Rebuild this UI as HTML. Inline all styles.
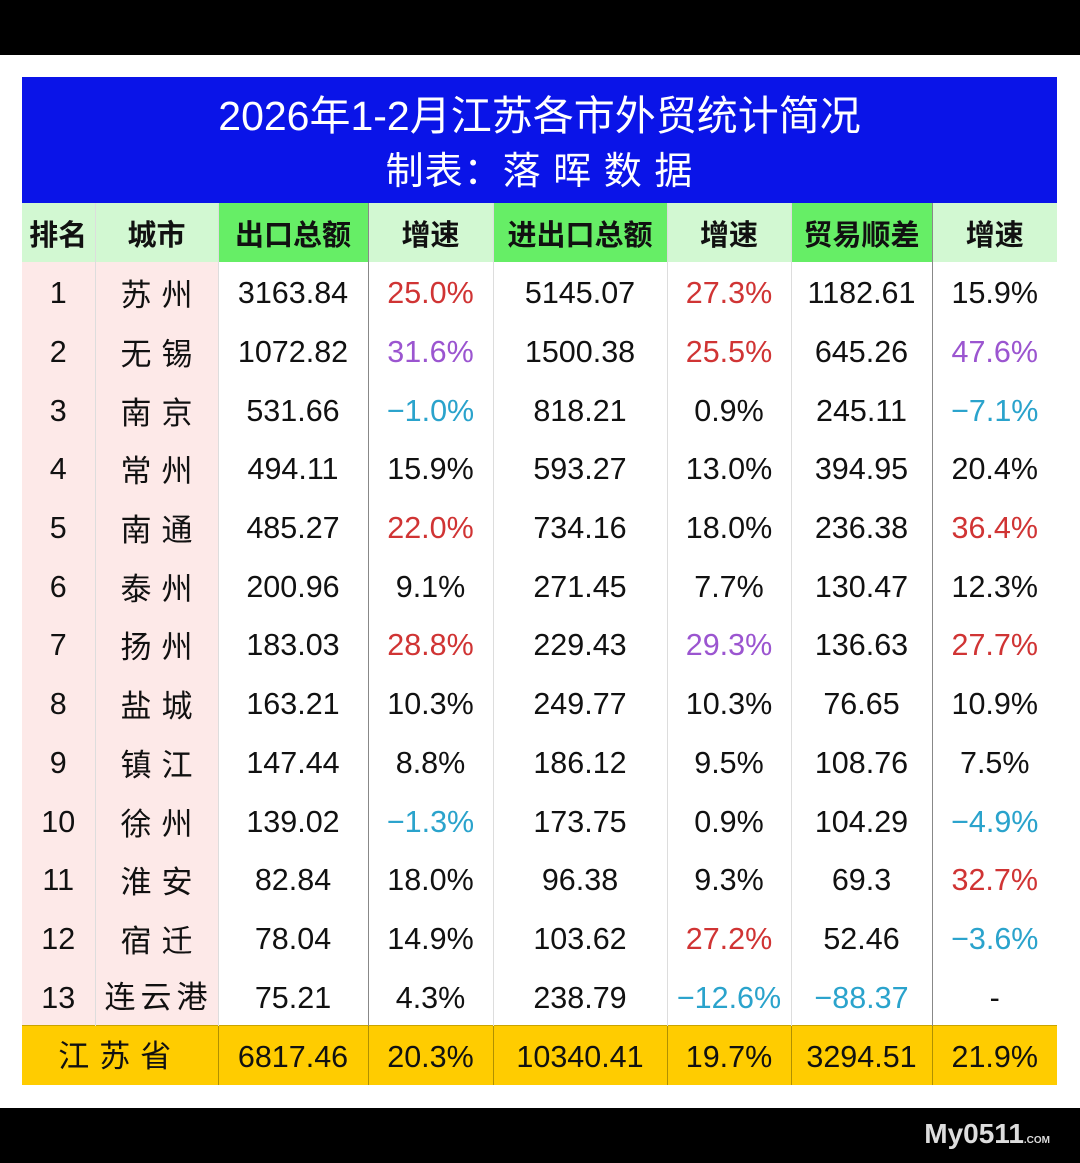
<!DOCTYPE html>
<html><head><meta charset="utf-8"><style>
body{margin:0;width:1080px;height:1163px;background:#fff;position:relative;overflow:hidden;font-family:"Liberation Sans","Noto Sans CJK SC",sans-serif;}
.top{position:absolute;left:0;top:0;width:1080px;height:55px;background:#000}
.bot{position:absolute;left:0;top:1108px;width:1080px;height:55px;background:#000}
.title{position:absolute;left:22px;top:77px;width:1035px;height:126px;background:#0a14e8;color:#fff;text-align:center}
table{position:absolute;left:22px;top:203px;border-collapse:collapse;table-layout:fixed;width:1035px}
td{padding:0;text-align:center;font-size:30.5px;line-height:36px;color:#111;height:58.7px;border-left:1px solid #ddd;white-space:nowrap;overflow:hidden}
td span{position:relative;top:2px}
td:first-child{border-left:none}
tr.h td{height:59px;background:#d2f8d2;font-weight:bold;font-size:29px;font-family:"Noto Sans CJK SC",sans-serif;color:#111}
tr.h td span{top:0}
tr.h td.g{background:#66ee66}
td.p{background:#fde9e8}
td.c{font-size:31px;letter-spacing:10px;padding-left:10px}
td.c span{top:5px}
.dl{border-left:1px solid #888}
tr.tot td{background:#ffcc00;height:59px;border-left:1px solid #b09000;border-top:1px solid #c9a400}
.r{color:#d03434}.v{color:#9b55d0}.b{color:#2aa3cc}
.wm{position:absolute;right:30px;top:1118px;color:#ddd;font-weight:bold;font-size:28px;font-family:"Liberation Sans",sans-serif}
.wm small{font-size:10px}
</style></head><body>
<div class="top"></div>
<div class="title">
<div style="position:absolute;left:0;width:100%;top:14px;font-size:41px;line-height:50px">2026年1-2月江苏各市外贸统计简况</div>
<div style="position:absolute;left:0;width:100%;top:70px;font-size:38px;line-height:50px;letter-spacing:1px">制表：落 晖 数 据</div>
</div>
<table>
<colgroup><col style="width:73px"><col style="width:123px"><col style="width:150px"><col style="width:125px"><col style="width:174px"><col style="width:124px"><col style="width:141px"><col style="width:125px"></colgroup>
<tr class="h"><td>排名</td><td>城市</td><td class="g">出口总额</td><td class="dl">增速</td><td class="g">进出口总额</td><td>增速</td><td class="g">贸易顺差</td><td class="dl">增速</td></tr>
<tr><td class="p"><span>1</span></td><td class="p c"><span>苏州</span></td><td><span>3163.84</span></td><td class="dl r"><span>25.0%</span></td><td><span>5145.07</span></td><td class="r"><span>27.3%</span></td><td><span>1182.61</span></td><td class="dl"><span>15.9%</span></td></tr>
<tr><td class="p"><span>2</span></td><td class="p c"><span>无锡</span></td><td><span>1072.82</span></td><td class="dl v"><span>31.6%</span></td><td><span>1500.38</span></td><td class="r"><span>25.5%</span></td><td><span>645.26</span></td><td class="dl v"><span>47.6%</span></td></tr>
<tr><td class="p"><span>3</span></td><td class="p c"><span>南京</span></td><td><span>531.66</span></td><td class="dl b"><span>−1.0%</span></td><td><span>818.21</span></td><td><span>0.9%</span></td><td><span>245.11</span></td><td class="dl b"><span>−7.1%</span></td></tr>
<tr><td class="p"><span>4</span></td><td class="p c"><span>常州</span></td><td><span>494.11</span></td><td class="dl"><span>15.9%</span></td><td><span>593.27</span></td><td><span>13.0%</span></td><td><span>394.95</span></td><td class="dl"><span>20.4%</span></td></tr>
<tr><td class="p"><span>5</span></td><td class="p c"><span>南通</span></td><td><span>485.27</span></td><td class="dl r"><span>22.0%</span></td><td><span>734.16</span></td><td><span>18.0%</span></td><td><span>236.38</span></td><td class="dl r"><span>36.4%</span></td></tr>
<tr><td class="p"><span>6</span></td><td class="p c"><span>泰州</span></td><td><span>200.96</span></td><td class="dl"><span>9.1%</span></td><td><span>271.45</span></td><td><span>7.7%</span></td><td><span>130.47</span></td><td class="dl"><span>12.3%</span></td></tr>
<tr><td class="p"><span>7</span></td><td class="p c"><span>扬州</span></td><td><span>183.03</span></td><td class="dl r"><span>28.8%</span></td><td><span>229.43</span></td><td class="v"><span>29.3%</span></td><td><span>136.63</span></td><td class="dl r"><span>27.7%</span></td></tr>
<tr><td class="p"><span>8</span></td><td class="p c"><span>盐城</span></td><td><span>163.21</span></td><td class="dl"><span>10.3%</span></td><td><span>249.77</span></td><td><span>10.3%</span></td><td><span>76.65</span></td><td class="dl"><span>10.9%</span></td></tr>
<tr><td class="p"><span>9</span></td><td class="p c"><span>镇江</span></td><td><span>147.44</span></td><td class="dl"><span>8.8%</span></td><td><span>186.12</span></td><td><span>9.5%</span></td><td><span>108.76</span></td><td class="dl"><span>7.5%</span></td></tr>
<tr><td class="p"><span>10</span></td><td class="p c"><span>徐州</span></td><td><span>139.02</span></td><td class="dl b"><span>−1.3%</span></td><td><span>173.75</span></td><td><span>0.9%</span></td><td><span>104.29</span></td><td class="dl b"><span>−4.9%</span></td></tr>
<tr><td class="p"><span>11</span></td><td class="p c"><span>淮安</span></td><td><span>82.84</span></td><td class="dl"><span>18.0%</span></td><td><span>96.38</span></td><td><span>9.3%</span></td><td><span>69.3</span></td><td class="dl r"><span>32.7%</span></td></tr>
<tr><td class="p"><span>12</span></td><td class="p c"><span>宿迁</span></td><td><span>78.04</span></td><td class="dl"><span>14.9%</span></td><td><span>103.62</span></td><td class="r"><span>27.2%</span></td><td><span>52.46</span></td><td class="dl b"><span>−3.6%</span></td></tr>
<tr><td class="p"><span>13</span></td><td class="p" style="letter-spacing:5px;font-size:31px;padding-left:4px"><span>连云港</span></td><td><span>75.21</span></td><td class="dl"><span>4.3%</span></td><td><span>238.79</span></td><td class="b"><span>−12.6%</span></td><td class="b"><span>−88.37</span></td><td class="dl"><span>-</span></td></tr>
<tr class="tot"><td colspan="2" style="border-left:none;letter-spacing:10px;font-size:31px"><span>江苏省</span></td><td><span>6817.46</span></td><td><span>20.3%</span></td><td><span>10340.41</span></td><td><span>19.7%</span></td><td><span>3294.51</span></td><td><span>21.9%</span></td></tr>
</table>
<div class="bot"></div>
<div class="wm">My0511<small>.COM</small></div>
</body></html>
